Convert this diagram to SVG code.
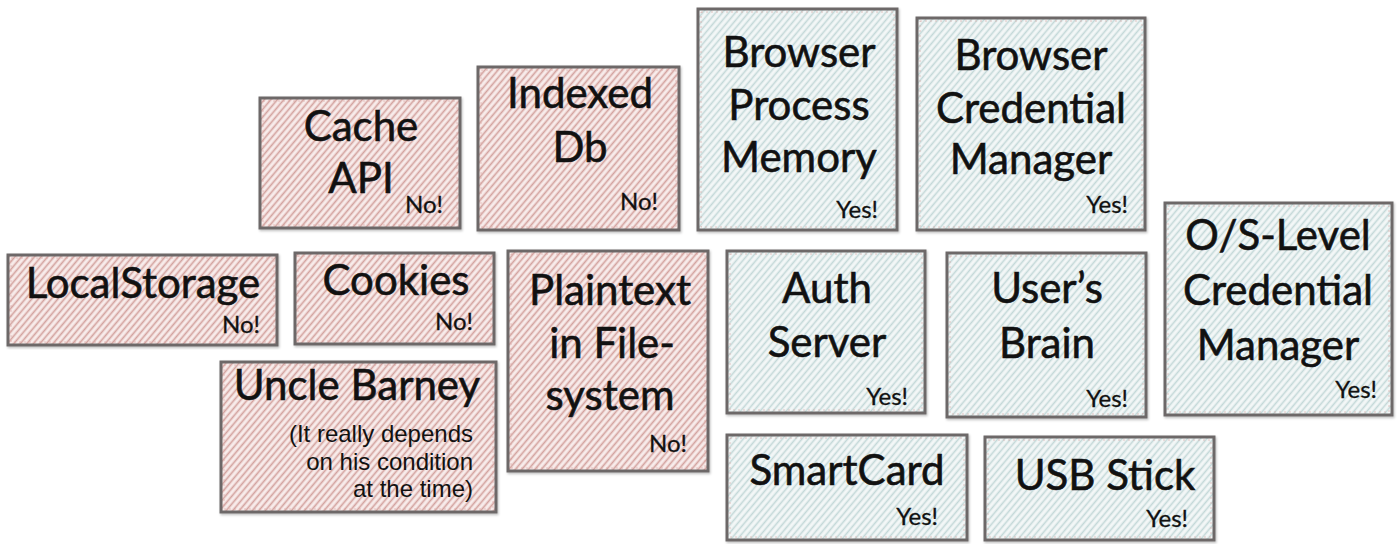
<svg xmlns="http://www.w3.org/2000/svg" width="1400" height="544" viewBox="0 0 1400 544">
<defs>
<pattern id="hatchRed" patternUnits="userSpaceOnUse" width="5" height="5" patternTransform="rotate(-50)">
<rect width="5" height="5" fill="#f8eceb"/>
<line x1="0" y1="1.5" x2="5" y2="1.5" stroke="#d3a29e" stroke-width="1.7"/>
</pattern>
<pattern id="hatchBlue" patternUnits="userSpaceOnUse" width="5" height="5" patternTransform="rotate(-50)">
<rect width="5" height="5" fill="#f3f7f7"/>
<line x1="0" y1="1.5" x2="5" y2="1.5" stroke="#c3d8d8" stroke-width="1.6"/>
</pattern>
<filter id="sh" x="-5%" y="-5%" width="110%" height="110%">
<feDropShadow dx="1" dy="1.5" stdDeviation="1.2" flood-color="#000" flood-opacity="0.25"/>
</filter>
</defs>
<style>
.box{stroke:#6d6868;stroke-width:3;filter:url(#sh)}
.no{fill:url(#hatchRed)}
.yes{fill:url(#hatchBlue)}
.inner{fill:none;stroke:#d9a3a0;stroke-width:1;stroke-dasharray:2 3;opacity:0.6}
.t{font-family:Lato,"Open Sans",sans-serif;font-size:42px;fill:#111;stroke:#111;stroke-width:0.6;text-anchor:middle}
.v{font-family:Lato,"Open Sans",sans-serif;font-size:24px;fill:#111;stroke:#111;stroke-width:0.3;text-anchor:end}
.s{font-family:"Liberation Sans",Arial,sans-serif;font-size:24px;fill:#111;text-anchor:end}
</style>
<g id="cache-api">
<rect class="box no" x="260" y="98" width="200" height="130"/>
<rect class="inner" x="263" y="101" width="194" height="124"/>
<text class="t" x="361" y="141">Cache</text>
<text class="t" x="361" y="193">API</text>
<text class="v" x="443" y="213">No!</text>
</g>
<g id="indexed-db">
<rect class="box no" x="478" y="67" width="201" height="163"/>
<rect class="inner" x="481" y="70" width="195" height="157"/>
<text class="t" x="580" y="108">Indexed</text>
<text class="t" x="580" y="162">Db</text>
<text class="v" x="658" y="210">No!</text>
</g>
<g id="browser-process-memory">
<rect class="box yes" x="698" y="9" width="199" height="221"/>
<rect class="inner" x="701" y="12" width="193" height="215"/>
<text class="t" x="799" y="67">Browser</text>
<text class="t" x="799" y="120">Process</text>
<text class="t" x="799" y="172">Memory</text>
<text class="v" x="878" y="218">Yes!</text>
</g>
<g id="browser-credential-manager">
<rect class="box yes" x="917" y="18" width="228" height="212"/>
<rect class="inner" x="920" y="21" width="222" height="206"/>
<text class="t" x="1031" y="70">Browser</text>
<text class="t" x="1031" y="123">Credential</text>
<text class="t" x="1031" y="174">Manager</text>
<text class="v" x="1128" y="213">Yes!</text>
</g>
<g id="localstorage">
<rect class="box no" x="8" y="255" width="269" height="90"/>
<rect class="inner" x="11" y="258" width="263" height="84"/>
<text class="t" x="143" y="298">LocalStorage</text>
<text class="v" x="260" y="333">No!</text>
</g>
<g id="cookies">
<rect class="box no" x="295" y="253" width="199" height="91"/>
<rect class="inner" x="298" y="256" width="193" height="85"/>
<text class="t" x="396" y="295">Cookies</text>
<text class="v" x="473" y="330">No!</text>
</g>
<g id="plaintext-filesystem">
<rect class="box no" x="508" y="251" width="200" height="220"/>
<rect class="inner" x="511" y="254" width="194" height="214"/>
<text class="t" x="610" y="305">Plaintext</text>
<text class="t" x="612" y="358">in File-</text>
<text class="t" x="610" y="410">system</text>
<text class="v" x="687" y="452">No!</text>
</g>
<g id="uncle-barney">
<rect class="box no" x="221" y="362" width="275" height="150"/>
<rect class="inner" x="224" y="365" width="269" height="144"/>
<text class="t" x="357" y="400">Uncle Barney</text>
<text class="s" x="473" y="442">(It really depends</text>
<text class="s" x="473" y="470">on his condition</text>
<text class="s" x="473" y="497">at the time)</text>
</g>
<g id="auth-server">
<rect class="box yes" x="727" y="251" width="198" height="162"/>
<rect class="inner" x="730" y="254" width="192" height="156"/>
<text class="t" x="827" y="303">Auth</text>
<text class="t" x="827" y="357">Server</text>
<text class="v" x="908" y="405">Yes!</text>
</g>
<g id="users-brain">
<rect class="box yes" x="947" y="253" width="199" height="164"/>
<rect class="inner" x="950" y="256" width="193" height="158"/>
<text class="t" x="1047" y="303">User’s</text>
<text class="t" x="1047" y="358">Brain</text>
<text class="v" x="1128" y="407">Yes!</text>
</g>
<g id="os-level-credential-manager">
<rect class="box yes" x="1165" y="203" width="227" height="212"/>
<rect class="inner" x="1168" y="206" width="221" height="206"/>
<text class="t" x="1278" y="250">O/S-Level</text>
<text class="t" x="1278" y="305">Credential</text>
<text class="t" x="1278" y="360">Manager</text>
<text class="v" x="1377" y="398">Yes!</text>
</g>
<g id="smartcard">
<rect class="box yes" x="727" y="435" width="240" height="105"/>
<rect class="inner" x="730" y="438" width="234" height="99"/>
<text class="t" x="847" y="485">SmartCard</text>
<text class="v" x="938" y="525">Yes!</text>
</g>
<g id="usb-stick">
<rect class="box yes" x="985" y="437" width="229" height="103"/>
<rect class="inner" x="988" y="440" width="223" height="97"/>
<text class="t" x="1105" y="490">USB Stick</text>
<text class="v" x="1188" y="527">Yes!</text>
</g>
<g id="connectors"/>
</svg>
